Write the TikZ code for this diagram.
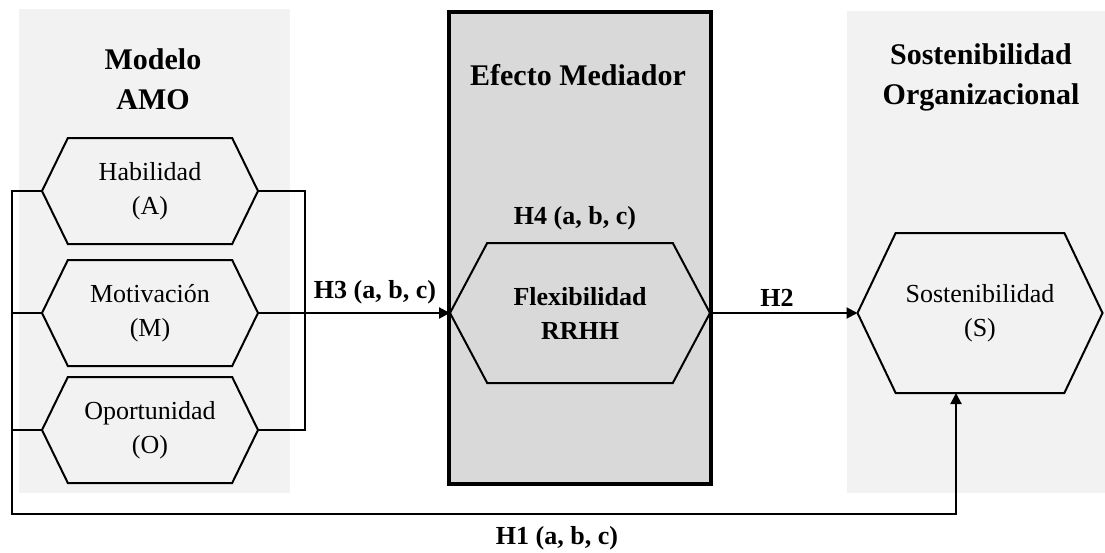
\documentclass[tikz,border=0pt]{standalone}
\usepackage{fontspec}
\setmainfont{Liberation Serif}
\usetikzlibrary{arrows.meta,shapes.symbols}
\definecolor{panelgray}{HTML}{F2F2F2}
\definecolor{boxgray}{HTML}{D9D9D9}
\begin{document}
\begin{tikzpicture}[x=1pt,y=-1pt,
  hexa/.style={signal, signal to=east and west, draw=black, line width=2pt,
    inner sep=0pt, outer sep=0pt, align=center,
    font=\fontsize{26}{34}\selectfont},
  header/.style={align=center, font=\fontsize{30}{40}\selectfont\bfseries},
  hlabel/.style={align=center, font=\fontsize{26}{34}\selectfont\bfseries},
  conn/.style={line width=2pt, draw=black},
  arr/.style={conn, -{Triangle[length=11pt,width=11pt]}}
]
% canvas
\useasboundingbox (0,0) rectangle (1105,552);
\fill[white] (0,0) rectangle (1105,552);

% background panels
\fill[panelgray] (19,9) rectangle (290,493);
\fill[panelgray] (847,11) rectangle (1105,493);
\draw[line width=3.5pt, fill=boxgray] (449,12) rectangle (711,484);

% panel titles
\node[header] (tamo) at (153,79) {Modelo\\AMO};
\node[header] (tmed) at (578,75) {Efecto Mediador};
\node[header] (tsos) at (981,77) {Sostenibilidad\\Organizacional};

% AMO dimensions
\node[hexa, fill=panelgray, signal pointer angle=128, minimum width=216pt, minimum height=106pt] (A) at (150,191) {Habilidad\\(A)};
\node[hexa, fill=panelgray, signal pointer angle=128, minimum width=216pt, minimum height=106pt] (M) at (150,313) {Motivación\\(M)};
\node[hexa, fill=panelgray, signal pointer angle=128, minimum width=216pt, minimum height=106pt] (O) at (150,430) {Oportunidad\\(O)};

% mediator
\node[hexa, fill=boxgray, signal pointer angle=124, minimum width=260pt, minimum height=140pt,
      font=\fontsize{26}{34}\selectfont\bfseries] (F) at (580,313) {Flexibilidad\\RRHH};

% outcome
\node[hexa, fill=panelgray, signal pointer angle=129, minimum width=245pt, minimum height=160pt] (S) at (980,313) {Sostenibilidad\\(S)};

% routing points
\coordinate (rtop) at (305,191);
\coordinate (rbot) at (305,430);
\coordinate (ltop) at (12,191);
\coordinate (lbot) at (12,514);
\coordinate (sbot) at (956,514);

% right bracket joining A and O
\draw[conn] (A.east) -- (rtop) -- (rbot) -- (O.east);
% left bracket and H1 path
\draw[conn] (M.west) -- (M.west -| ltop);
\draw[conn] (O.west) -- (O.west -| ltop);
\draw[arr] (A.west) -- (ltop) -- (lbot) -- (sbot) -- (sbot |- S.south);
% H3 and H2
\draw[arr] (M.east) -- (F.west);
\draw[arr] (F.east) -- (S.west);

% hypothesis labels
\node[hlabel] (h4) at (575,218) {H4 (a, b, c)};
\node[hlabel] (h3) at (375,292) {H3 (a, b, c)};
\node[hlabel] (h2) at (777,298) {H2};
\node[hlabel] (h1) at (557,538) {H1 (a, b, c)};
\end{tikzpicture}
\end{document}
